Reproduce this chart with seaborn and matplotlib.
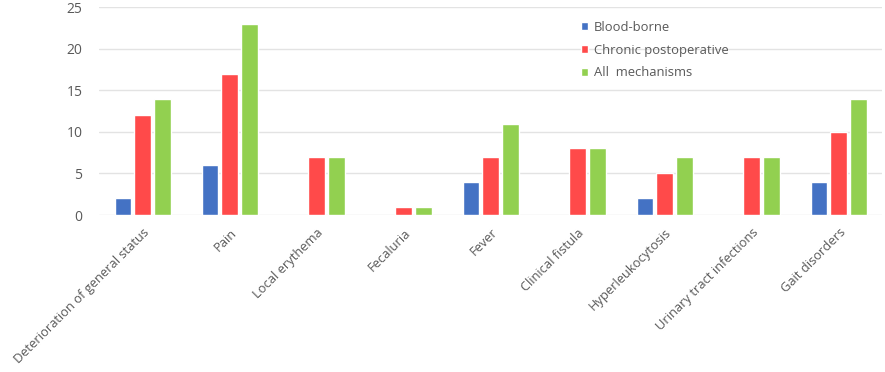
import numpy as np
import pandas as pd
import matplotlib.pyplot as plt
import seaborn as sns

# Chart values
symptoms = [
    "Deterioration of general status", "Pain", "Local erythema", "Fecaluria",
    "Fever", "Clinical fistula", "Hyperleukocytosis",
    "Urinary tract infections", "Gait disorders",
]
blood_borne = [2, 6, np.nan, np.nan, 4, np.nan, 2, np.nan, 4]
chronic_postop = [12, 17, 7, 1, 7, 8, 5, 7, 10]
all_mechanisms = [14, 23, 7, 1, 11, 8, 7, 7, 14]
series_names = ["Blood-borne", "Chronic postoperative", "All  mechanisms"]

df = pd.DataFrame({
    "Symptom": symptoms * 3,
    "Mechanism": sum([[s] * len(symptoms) for s in series_names], []),
    "Count": blood_borne + chronic_postop + all_mechanisms,
})

sns.set_theme(style="white")
plt.rcParams['font.family'] = ['Open Sans', 'DejaVu Sans']

fig = plt.figure(figsize=(8.85, 3.72), dpi=100)
ax = fig.add_axes([0.112, 0.422, 0.885, 0.559])

sns.barplot(
    data=df, x="Symptom", y="Count", hue="Mechanism",
    palette=["#4472C4", "#FF4A4A", "#92D050"],
    width=0.68, gap=0.15, saturation=1, ax=ax,
)

ax.set_ylim(0, 25)
ax.set_yticks([0, 5, 10, 15, 20, 25])
ax.yaxis.grid(True, color="#E3E3E3", linewidth=1)
ax.set_axisbelow(True)
for s in ax.spines.values():
    s.set_visible(False)
ax.set_xlabel("")
ax.set_ylabel("")
ax.tick_params(axis="y", length=0, labelsize=10, colors="#595959", pad=12)
ax.tick_params(axis="x", length=0, labelsize=9.3, colors="#595959", pad=8)
plt.setp(ax.get_xticklabels(), rotation=45, ha="right", rotation_mode="anchor")

leg = ax.legend(
    loc="upper left", bbox_to_anchor=(0.6, 0.99), frameon=False,
    fontsize=9.4, handlelength=0.55, handleheight=0.55, handletextpad=0.45,
    labelspacing=0.75,
)
for t in leg.get_texts():
    t.set_color("#595959")

plt.savefig("out.png", dpi=100)
